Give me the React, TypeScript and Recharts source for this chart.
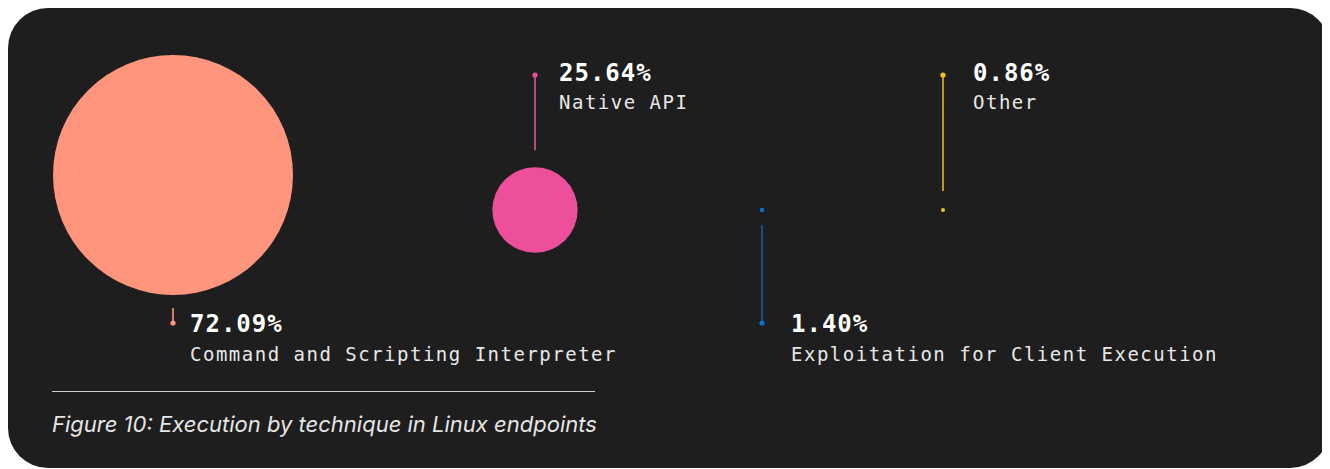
import { ScatterChart, Scatter, XAxis, YAxis, ZAxis } from 'recharts'

// data
const TECHNIQUES = [
  'Command and Scripting Interpreter',
  'Native API',
  'Exploitation for Client Execution',
  'Other',
]
const SHARES = [72.09, 25.64, 1.4, 0.86]

// layout (chart coords) and styling
const W = 1322
const H = 380
const SLOT_X = [165, 527, 754, 935]
const SLOT_Y = [167, 202, 202, 202]
const LABEL_SIDE = ['bottom', 'top', 'bottom', 'top']
const LABEL_DX = [17, 24, 29, 30]
const DOT_COLORS = ['#FF957C', '#EE4F9B', '#0A6CCC', '#F5C21B']
const LINE_COLORS = ['#FF957C', '#E0559A', '#125C9E', '#E9B21A']

const BG = '#1E1E1E'
const MONO = '"DejaVu Sans Mono", "Liberation Mono", monospace'

const points = TECHNIQUES.map((name, i) => ({
  name,
  value: SHARES[i],
  x: SLOT_X[i],
  y: SLOT_Y[i],
  i,
}))

const BOTTOM_ROW = 315
const TOP_ROW = 67

function Bubble(props: any) {
  const { cx, cy, size, payload } = props
  const i = payload.i
  const r = Math.max(size, 2)
  const side = LABEL_SIDE[i]
  const dotY = side === 'bottom' ? BOTTOM_ROW : TOP_ROW
  const lineStart = side === 'bottom' ? cy + r + 13 : cy - r - 17
  const tx = cx + LABEL_DX[i]
  const pctY = side === 'bottom' ? 324 : 73
  const nameY = side === 'bottom' ? 353 : 101
  return (
    <g>
      <circle cx={cx} cy={cy} r={r} fill={DOT_COLORS[i]} />
      <line x1={cx} x2={cx} y1={lineStart} y2={dotY} stroke={LINE_COLORS[i]} strokeWidth={1.6} />
      <circle cx={cx} cy={dotY} r={2.6} fill={DOT_COLORS[i]} />
      <text x={tx} y={pctY} fill="#FFFFFF" fontFamily={MONO} fontWeight={700} fontSize={24} letterSpacing={1}>
        {payload.value.toFixed(2)}%
      </text>
      <text x={tx} y={nameY} fill="#E8E8E8" fontFamily={MONO} fontSize={19} letterSpacing={1.5}>
        {payload.name}
      </text>
    </g>
  )
}

export default function App() {
  return (
    <div
      style={{
        position: 'relative',
        width: W,
        height: 460,
        background: BG,
        borderRadius: 40,
        overflow: 'hidden',
      }}
    >
      <ScatterChart width={W} height={H} margin={{ top: 0, right: 0, bottom: 0, left: 0 }}>
        <XAxis type="number" dataKey="x" domain={[0, W]} hide />
        <YAxis type="number" dataKey="y" domain={[0, H]} reversed hide />
        <ZAxis type="number" dataKey="value" domain={[0, 'dataMax']} range={[0, 120]} />
        <Scatter data={points} shape={<Bubble />} isAnimationActive={false} />
      </ScatterChart>
      <div
        style={{
          position: 'absolute',
          left: 44,
          top: 383,
          width: 543,
          height: 1,
          background: '#CFCFCF',
        }}
      />
      <div
        style={{
          position: 'absolute',
          left: 44,
          top: 403,
          fontFamily: 'Inter, "Noto Sans", sans-serif',
          fontStyle: 'italic',
          fontSize: 22,
          color: '#E6E6E6',
          whiteSpace: 'nowrap',
        }}
      >
        Figure 10: Execution by technique in Linux endpoints
      </div>
    </div>
  )
}
